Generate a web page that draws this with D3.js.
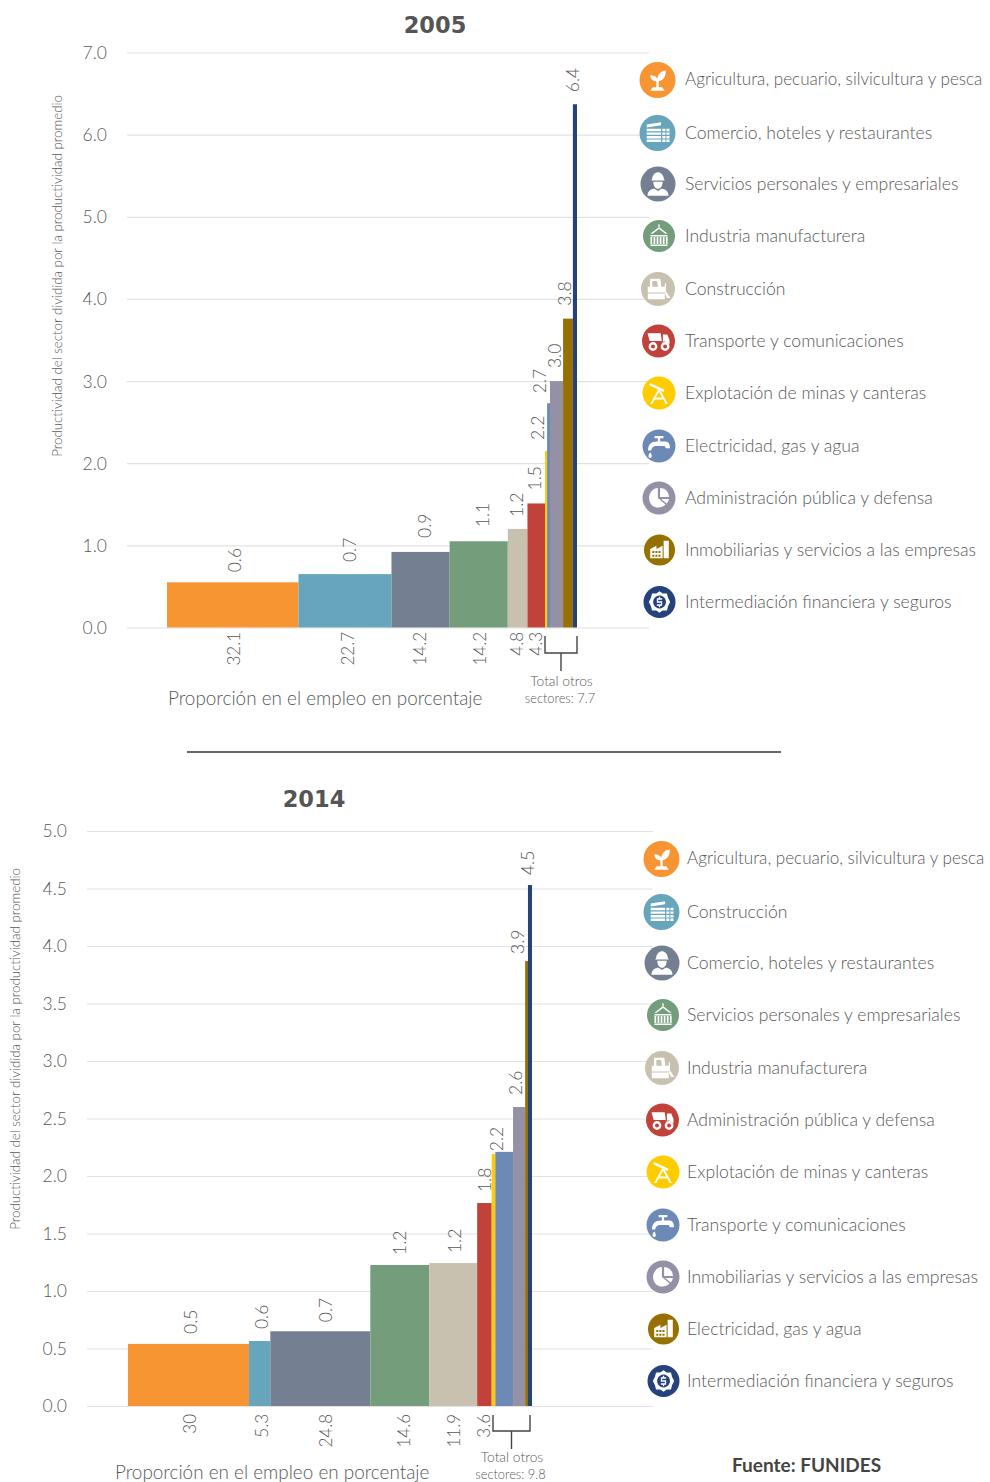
<!DOCTYPE html>
<html>
<head>
<meta charset="utf-8">
<script src="https://cdn.jsdelivr.net/npm/d3@7"></script>
<style>
html, body { margin: 0; padding: 0; background: #fff; }
text { font-family: Lato, "Open Sans", sans-serif; font-weight: 300; fill: #585858; }
.grid line { stroke: #e2e2e2; stroke-width: 1.2; }
.grid path { display: none; }
</style>
</head>
<body>
<div id="chart"></div>
<script>
// 2005
const legend2005 = ["Agricultura, pecuario, silvicultura y pesca", "Comercio, hoteles y restaurantes", "Servicios personales y empresariales", "Industria manufacturera", "Construcción", "Transporte y comunicaciones", "Explotación de minas y canteras", "Electricidad, gas y agua", "Administración pública y defensa", "Inmobiliarias y servicios a las empresas", "Intermediación financiera y seguros"];
const share2005 = [32.1, 22.7, 14.2, 14.2, 4.8, 4.3, 0.5, 0.7, 3.2, 2.4, 1.0];
const prod2005 = [0.55, 0.65, 0.92, 1.05, 1.2, 1.51, 2.15, 2.73, 3.0, 3.76, 6.37];
const prodLabels2005 = ["0.6", "0.7", "0.9", "1.1", "1.2", "1.5", "2.2", "2.7", "3.0", "3.8", "6.4"];
const shareLabels2005 = ["32.1", "22.7", "14.2", "14.2", "4.8", "4.3"];
const yTicks2005 = [0, 1, 2, 3, 4, 5, 6, 7];

// 2014
const legend2014 = ["Agricultura, pecuario, silvicultura y pesca", "Construcción", "Comercio, hoteles y restaurantes", "Servicios personales y empresariales", "Industria manufacturera", "Administración pública y defensa", "Explotación de minas y canteras", "Transporte y comunicaciones", "Inmobiliarias y servicios a las empresas", "Electricidad, gas y agua", "Intermediación financiera y seguros"];
const share2014 = [30, 5.3, 24.8, 14.6, 11.9, 3.6, 0.9, 4.4, 3.0, 0.7, 1.0];
const prod2014 = [0.54, 0.565, 0.65, 1.226, 1.243, 1.765, 2.19, 2.21, 2.6, 3.87, 4.53];
const prodLabels2014 = ["0.5", "0.6", "0.7", "1.2", "1.2", "1.8", "2.2", "", "2.6", "3.9", "4.5"];
const shareLabels2014 = ["30", "5.3", "24.8", "14.6", "11.9", "3.6"];
const yTicks2014 = [0, 0.5, 1, 1.5, 2, 2.5, 3, 3.5, 4, 4.5, 5];

const colors = ["#F79533", "#66A5BB", "#748091", "#749D7C", "#C8C1AF", "#C1423A", "#FFCC00", "#6C8AB5", "#9491A6", "#967000", "#25427A"];
const iconNames = ["plant", "office", "worker", "container", "dozer", "truck", "pump", "tap", "pie", "factory", "money"];

// small repeated boxes for the icons
const box = (x, y, w, h) => `M${x} ${y}h${w}v${h}h${-w}Z`;
const ring = (cx, cy, r) => `M${cx - r} ${cy}a${r} ${r} 0 1 0 ${2 * r} 0a${r} ${r} 0 1 0 ${-2 * r} 0Z`;

// white glyphs inside the legend circles, drawn on a -12..12 box
const icons = {
    plant: "M-1 6V1C-4 1-6-1-6-4C-3-4-1-3 0-1C0-5 3-8 7-8C7-3 5 0 1 1V6H4L6 9H-6L-4 6Z",
    office: "M-9-7L3-9V-6.5L-9-4.5Z" + d3.range(4).map(i => box(-9, -3.5 + i * 3, 12, 2)).join("")
        + d3.range(4).map(i => box(4, -3.5 + i * 3, 2.6, 2) + box(7.4, -3.5 + i * 3, 2.6, 2)).join(""),
    worker: "M-5-4C-5-8-2-10 0-10C2-10 5-8 5-4L6-3H-6ZM-4-2H4C4 2 2 4 0 4C-2 4-4 2-4-2ZM-9 10C-9 6-6 4-3 4L0 6L3 4C6 4 9 6 9 10Z",
    container: box(-0.6, -11, 1.2, 3) + "M0-8.5L8-2H6L0-6.5L-6-2H-8Z" + box(-8, -1, 16, 1.4) + box(-8, 8, 16, 1.4)
        + d3.range(6).map(i => box(-8 + i * 2.9, 1, 1.6, 6.5)).join(""),
    dozer: "M-7-9H2L3-2H6V-5H7V3H-9V-2H-7ZM-5-7V-2H0L-1-7ZM7 2L11 8H8L6 4Z" + box(-9, 4, 15, 5),
    truck: "M-10-7H2L3 0H-8ZM4-6H8L10-1V3H9A4 4 0 0 0 2 2L4 1Z" + ring(-5, 5, 4) + ring(-5, 5, 1.8) + ring(6, 5, 4) + ring(6, 5, 1.8),
    pump: "M-8-9L5-3L4-1L-9-7ZM1-3L8 10H6L4 6H-4L-6 10H-8L-1-3ZM-3 4H3L0-1Z",
    tap: "M-4-9H4V-7H1V-4H6C9-4 10-1 10 2H6C6 0 5 0 4 0H-3C-5 0-7 2-7 4H-10C-10-1-7-4-2-4H-1V-7H-4ZM-8 6C-6 8-6 11-8 11C-10 11-10 8-8 6Z",
    pie: "M-1-9V0L6 6C1 11-9 9-9 0C-9-5-5-9-1-9ZM1-9C6-9 9-5 9-1H1ZM2 1H9C9 2 8 4 7 5Z",
    factory: "M4-9H9V8H4ZM-9-1L-3-4V-1L3-4V8H-9Z" + box(-7, 1, 2, 2) + box(-4, 1, 2, 2) + box(-1, 1, 2, 2) + box(-7, 4.5, 2, 2) + box(-4, 4.5, 2, 2) + box(-1, 4.5, 2, 2),
    money: "M0-10L3-8H7L8-4L10 0L8 4L7 8H3L0 10L-3 8H-7L-8 4L-10 0L-8-4L-7-8H-3ZM0-6A6 6 0 1 0 .1-6Z"
        + "M2.5-3.5H-2.5V.6H1.3V2H-2.5V3.5H2.5V-.6H-1.3V-2H2.5Z" + box(-0.6, -5, 1.2, 1.5) + box(-0.6, 3.5, 1.2, 1.5)
};

const svg = d3.select("#chart")
    .append("svg")
    .attr("width", 990)
    .attr("height", 1482)
    .style("display", "block");

function drawChart(cfg) {
    const g = svg.append("g");
    const total = d3.sum(cfg.share);
    const edges = [0, ...d3.cumsum(cfg.share)];

    const x = d3.scaleLinear().domain([0, total]).range(cfg.xRange);
    const y = d3.scaleLinear().domain(cfg.yDomain).range(cfg.yRange);

    // gridlines and y labels
    const axis = g.append("g")
        .attr("class", "grid")
        .attr("transform", `translate(${cfg.gridRange[0]},0)`)
        .call(d3.axisLeft(y)
            .tickValues(cfg.yTicks)
            .tickFormat(d3.format(".1f"))
            .tickSize(-(cfg.gridRange[1] - cfg.gridRange[0]))
            .tickPadding(20));
    axis.selectAll("text")
        .attr("dy", "0.34em")
        .style("font-size", "17.5px");

    // bars, width is the share of employment
    g.selectAll("rect.bar")
        .data(cfg.prod)
        .enter()
        .append("rect")
        .attr("class", "bar")
        .attr("x", (d, i) => x(edges[i]))
        .attr("y", d => y(d))
        .attr("width", (d, i) => x(edges[i + 1]) - x(edges[i]))
        .attr("height", d => y(0) - y(d))
        .attr("fill", (d, i) => colors[i]);

    // productivity labels over the bars
    g.selectAll("text.prod")
        .data(cfg.prodLabels)
        .enter()
        .append("text")
        .attr("class", "prod")
        .attr("transform", (d, i) => {
            const cx = (x(edges[i]) + x(edges[i + 1])) / 2 + cfg.prodNudge[i];
            return `translate(${cx},${y(cfg.prod[i]) - cfg.prodGap[i]}) rotate(-90)`;
        })
        .attr("dy", "0.35em")
        .style("font-size", "17.5px")
        .text(d => d);

    // employment share labels under the bars
    g.selectAll("text.share")
        .data(cfg.shareLabels)
        .enter()
        .append("text")
        .attr("class", "share")
        .attr("transform", (d, i) => {
            const cx = (x(edges[i]) + x(edges[i + 1])) / 2 + cfg.shareNudge[i];
            return `translate(${cx},${y(0) + cfg.shareGap}) rotate(-90)`;
        })
        .attr("dy", "0.35em")
        .attr("text-anchor", "end")
        .style("font-size", "17px")
        .text(d => d);

    // bracket for the small sectors
    const b = cfg.bracket;
    g.append("path")
        .attr("d", `M${b.x0},${b.top}V${b.bottom}H${b.x1}V${b.top}M${b.mid},${b.bottom}V${b.stem}`)
        .attr("fill", "none")
        .attr("stroke", "#444")
        .attr("stroke-width", 1.4);
    g.append("text")
        .attr("x", b.mid + 0.5)
        .attr("y", b.textY)
        .attr("text-anchor", "middle")
        .style("font-size", "13.8px")
        .text("Total otros");
    g.append("text")
        .attr("x", b.mid - 1)
        .attr("y", b.textY + 17)
        .attr("text-anchor", "middle")
        .style("font-size", "12.8px")
        .text(b.label);

    // titles
    g.append("text")
        .attr("x", cfg.titleX)
        .attr("y", cfg.titleY)
        .attr("text-anchor", "middle")
        .style("font-family", "'DejaVu Sans', sans-serif")
        .style("font-weight", 700)
        .style("font-size", "22.5px")
        .style("fill", "#555")
        .text(cfg.title);
    g.append("text")
        .attr("x", cfg.xTitle[0])
        .attr("y", cfg.xTitle[1])
        .style("font-size", "18.9px")
        .text("Proporción en el empleo en porcentaje");
    g.append("text")
        .attr("transform", `translate(${cfg.yTitle[0]},${cfg.yTitle[1]}) rotate(-90)`)
        .attr("text-anchor", "middle")
        .attr("dy", "0.35em")
        .style("font-size", "13.3px")
        .text("Productividad del sector dividida por la productividad promedio");

    // legend
    const row = g.selectAll("g.legend")
        .data(cfg.legend)
        .enter()
        .append("g")
        .attr("class", "legend")
        .attr("transform", (d, i) => `translate(${cfg.legendX + legendDx[i]},${cfg.legendY + legendDy[i]})`);
    row.append("circle")
        .attr("r", (d, i) => legendR[i])
        .attr("fill", (d, i) => colors[i]);
    row.append("path")
        .attr("d", (d, i) => icons[iconNames[i]])
        .attr("transform", (d, i) => `scale(${legendR[i] / 15})`)
        .attr("fill", "#fff")
        .attr("fill-rule", "evenodd");
    // the long first row has to stay inside the page
    row.append("text")
        .attr("x", (d, i) => cfg.legendText - legendDx[i])
        .attr("dy", "0.32em")
        .style("font-size", (d, i) => i === 0 ? "17.1px" : "17.6px")
        .text(d => d);
}

// circle placement is the same in both legends
const legendDx = [0, 0, 0.5, 1.5, 0.5, 1, 1.5, 1.5, 1.5, 2, 2];
const legendDy = [0, 53, 104, 156, 209, 261, 313, 366, 418, 470, 522];
const legendR = [18, 18, 17.5, 16, 17, 16.5, 16.5, 16.5, 16.5, 15.5, 16];

drawChart({
    title: "2005", titleX: 435, titleY: 33,
    share: share2005, prod: prod2005, prodLabels: prodLabels2005, shareLabels: shareLabels2005,
    legend: legend2005, yTicks: yTicks2005, yDomain: [0, 7], yRange: [627.5, 52.5],
    xRange: [167, 577], gridRange: [127, 649],
    prodNudge: [2, 5, 4, 4, -1, -1, -8, -9, -2, -3, -2],
    prodGap: [10, 12, 14, 14, 12, 13, 11, 10, 13, 13, 12],
    shareNudge: [1, 3, 0, 1, -1, 0],
    shareGap: 4.5,
    bracket: {x0: 545, x1: 577, mid: 561, top: 636, bottom: 653, stem: 671, textY: 686, label: "sectores: 7.7"},
    xTitle: [168, 705], yTitle: [57, 276],
    legendX: 657.5, legendY: 80, legendText: 27.5
});

drawChart({
    title: "2014", titleX: 314, titleY: 807,
    share: share2014, prod: prod2014, prodLabels: prodLabels2014, shareLabels: shareLabels2014,
    legend: legend2014, yTicks: yTicks2014, yDomain: [0, 5], yRange: [1406, 831],
    xRange: [128, 532], gridRange: [87, 653],
    prodNudge: [2.5, 2.5, 6, 0.5, 2, 0, 3, 0, -3, -8.5, -2],
    prodGap: [10, 12, 9, 10, 10, 11, 3, 0, 12, 7, 10],
    shareNudge: [2, 2.5, 6, 4, 1, 0],
    shareGap: 8,
    bracket: {x0: 493, x1: 530, mid: 511.5, top: 1415, bottom: 1431, stem: 1449, textY: 1462, label: "sectores: 9.8"},
    xTitle: [115, 1479], yTitle: [15, 1049],
    legendX: 661.5, legendY: 859, legendText: 25.5
});

// divider between the two charts
svg.append("line")
    .attr("x1", 187)
    .attr("x2", 781)
    .attr("y1", 752)
    .attr("y2", 752)
    .attr("stroke", "#333")
    .attr("stroke-width", 1.5);

svg.append("text")
    .attr("x", 732)
    .attr("y", 1472)
    .style("font-weight", 700)
    .style("font-size", "19px")
    .style("fill", "#444")
    .text("Fuente: FUNIDES");
</script>
</body>
</html>
